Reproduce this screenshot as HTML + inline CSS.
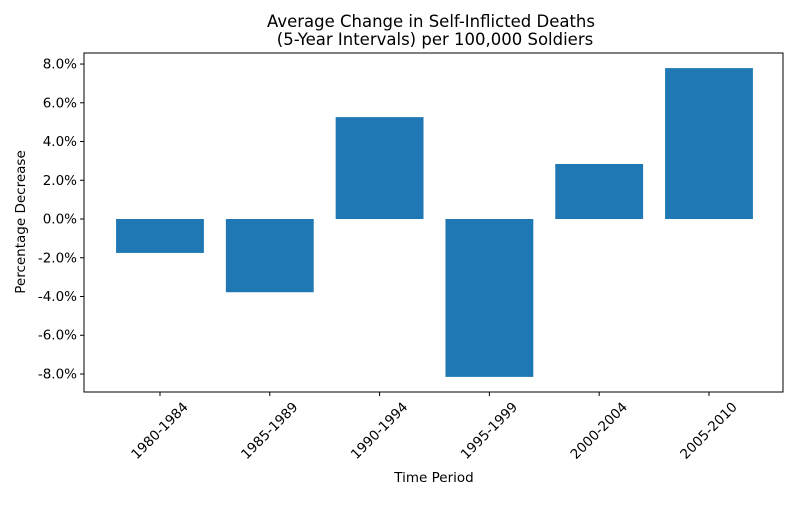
<!DOCTYPE html>
<html><head><meta charset="utf-8"><style>
body{margin:0;background:#fff;font-family:"Liberation Sans","DejaVu Sans",sans-serif}
svg text{font-family:"DejaVu Sans","Liberation Sans",sans-serif;fill:#000}
</style></head><body>
<svg id="chart" width="800" height="500" xmlns="http://www.w3.org/2000/svg">
<rect width="800" height="500" fill="#fff"/>
<text x="431" y="27" font-size="16.5" text-anchor="middle">Average Change in Self-Inflicted Deaths</text>
<text x="435" y="45" font-size="16.5" text-anchor="middle">(5-Year Intervals) per 100,000 Soldiers</text>
<g id="bars"></g><g id="yticks"></g><g id="xticks"></g>
<rect x="84" y="53" width="699" height="339" fill="none" stroke="#000" stroke-width="1"/>
<text x="434" y="482" font-size="13.5" text-anchor="middle">Time Period</text>
<text transform="translate(25,222) rotate(-90)" font-size="13.5" text-anchor="middle">Percentage Decrease</text>
</svg>
<script>
const categories=["1980-1984","1985-1989","1990-1994","1995-1999","2000-2004","2005-2010"];
const values=[-1.75,-3.78,5.26,-8.15,2.84,7.79];
const yTicks=[-8,-6,-4,-2,0,2,4,6,8];
const NS="http://www.w3.org/2000/svg";
const L=84,R=783,T=53,B=392,ymin=-8.93,ymax=8.57,xmin=-0.692,xmax=5.674;
const ys=v=>B-(v-ymin)/(ymax-ymin)*(B-T);
const xs=i=>L+(i-xmin)/(xmax-xmin)*(R-L);
function mk(t,a,p){const e=document.createElementNS(NS,t);for(const k in a)e.setAttribute(k,a[k]);p.appendChild(e);return e;}
const bg=document.getElementById('bars'),yg=document.getElementById('yticks'),xg=document.getElementById('xticks');
const bw=xs(0.4)-xs(-0.4);
values.forEach((v,i)=>{
 const y0=ys(0),y1=ys(v);
 const r=mk('rect',{x:xs(i)-bw/2,y:Math.min(y0,y1),width:bw,height:Math.abs(y1-y0),fill:'#1f77b4'},bg);
 
 
 const x=xs(i);
 const tk=mk('line',{x1:x,x2:x,y1:B,y2:B+4,stroke:'#000'},xg);
 
 
 const t=mk('text',{x:0,y:0,'font-size':13.5,'text-anchor':'middle','dominant-baseline':'central',transform:`translate(${x},${B+39}) rotate(-45)`},xg);
 t.textContent=categories[i];
 
 
});
yTicks.forEach(v=>{
 const y=ys(v);
 const tk=mk('line',{x1:L-4,x2:L,y1:y,y2:y,stroke:'#000'},yg);
 
 
 const t=mk('text',{x:L-7,y:y+4.5,'font-size':13.5,'text-anchor':'end'},yg);
 t.textContent=v.toFixed(1)+'%';
 
 
});
</script>
</body></html>
